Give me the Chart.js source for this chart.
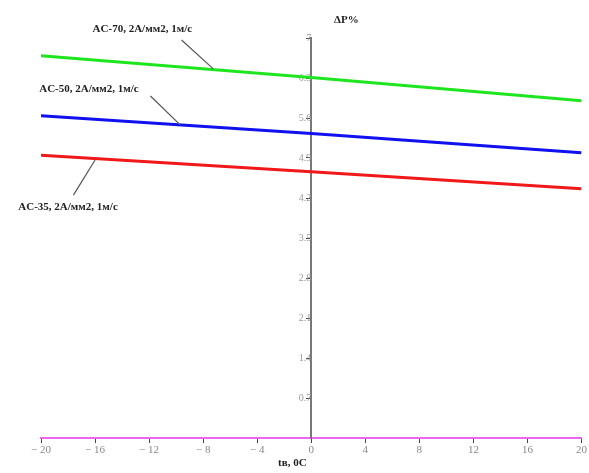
<!DOCTYPE html>
<html>
<head>
<meta charset="utf-8">
<script src="https://cdn.jsdelivr.net/npm/chart.js@4/dist/chart.umd.min.js"></script>
<style>
  body { margin: 0; background: #fff; }
</style>
</head>
<body>
<canvas id="grafico" width="589" height="473"></canvas>
<script>
// Dados
const temperaturas = [-20, 0, 20];
const perdasAC70 = [6.69, 6.31, 5.90];
const perdasAC50 = [5.64, 5.33, 4.99];
const perdasAC35 = [4.95, 4.66, 4.36];

const rotulos = ['AC-70, 2A/мм2, 1м/с', 'AC-50, 2A/мм2, 1м/с', 'AC-35, 2A/мм2, 1м/с'];
// posição do texto e da linha de chamada, em unidades dos eixos
const chamadas = [
    { texto: [-12.5, 7.16], de: [-9.6, 6.965], ate: [-7.25, 6.46] },
    { texto: [-16.45, 6.11], de: [-11.9, 5.985], ate: [-9.7, 5.48] },
    { texto: [-18.0, 4.04], de: [-17.6, 4.25], ate: [-16.0, 4.865] }
];

const serif = "'Liberation Serif', 'DejaVu Serif', serif";

function pontos(valores) {
    return temperaturas.map((t, i) => ({ x: t, y: valores[i] }));
}

// Plugin para textos e linhas de chamada
const anotacoes = {
    id: 'anotacoes',
    afterDatasetsDraw(chart) {
        const c = chart.ctx;
        const sx = chart.scales.x;
        const sy = chart.scales.y;
        c.save();
        c.strokeStyle = '#555';
        c.lineWidth = 1.2;
        c.fillStyle = '#222';
        c.font = 'bold 11px ' + serif;
        c.textAlign = 'center';
        c.textBaseline = 'middle';
        chamadas.forEach((ch, i) => {
            c.beginPath();
            c.moveTo(sx.getPixelForValue(ch.de[0]), sy.getPixelForValue(ch.de[1]));
            c.lineTo(sx.getPixelForValue(ch.ate[0]), sy.getPixelForValue(ch.ate[1]));
            c.stroke();
            c.fillText(rotulos[i], sx.getPixelForValue(ch.texto[0]), sy.getPixelForValue(ch.texto[1]));
        });
        // títulos dos eixos
        c.fillText('ΔP%', sx.getPixelForValue(2.6), 20);
        c.fillText('tв, 0С', sx.getPixelForValue(-1.4), 463);
        c.restore();
    }
};

const ctx = document.getElementById('grafico').getContext('2d');
new Chart(ctx, {
    type: 'line',
    data: {
        datasets: [
            { label: 'AC-70', data: pontos(perdasAC70), borderColor: '#1ee61e', borderWidth: 3, pointRadius: 0 },
            { label: 'AC-50', data: pontos(perdasAC50), borderColor: '#1010f0', borderWidth: 3, pointRadius: 0 },
            { label: 'AC-35', data: pontos(perdasAC35), borderColor: '#f01818', borderWidth: 3, pointRadius: 0 }
        ]
    },
    options: {
        responsive: false,
        animation: false,
        layout: { padding: { left: 41, right: 7, top: 38, bottom: 35 } },
        plugins: {
            legend: { display: false },
            tooltip: { enabled: false }
        },
        scales: {
            x: {
                type: 'linear',
                min: -20,
                max: 20,
                position: { y: 0 },
                grid: { drawOnChartArea: false, drawTicks: true, tickLength: 4, color: '#444' },
                border: { display: true, color: '#ee66ee', width: 2, dash: [8, 4] },
                ticks: {
                    stepSize: 4,
                    padding: 2,
                    color: '#888',
                    font: { family: serif, size: 11 },
                    callback: v => v < 0 ? '− ' + Math.abs(v) : String(v)
                }
            },
            y: {
                min: 0,
                max: 7,
                position: { x: 0 },
                grid: { drawOnChartArea: false, drawTicks: true, tickLength: 4, color: '#444' },
                border: { display: true, color: '#777', width: 2 },
                ticks: {
                    stepSize: 0.7,
                    padding: 2,
                    color: '#999',
                    font: { family: serif, size: 10 },
                    callback: v => v === 0 ? '' : (Math.round(v * 10) / 10).toString()
                }
            }
        }
    },
    plugins: [anotacoes]
});
</script>
</body>
</html>
